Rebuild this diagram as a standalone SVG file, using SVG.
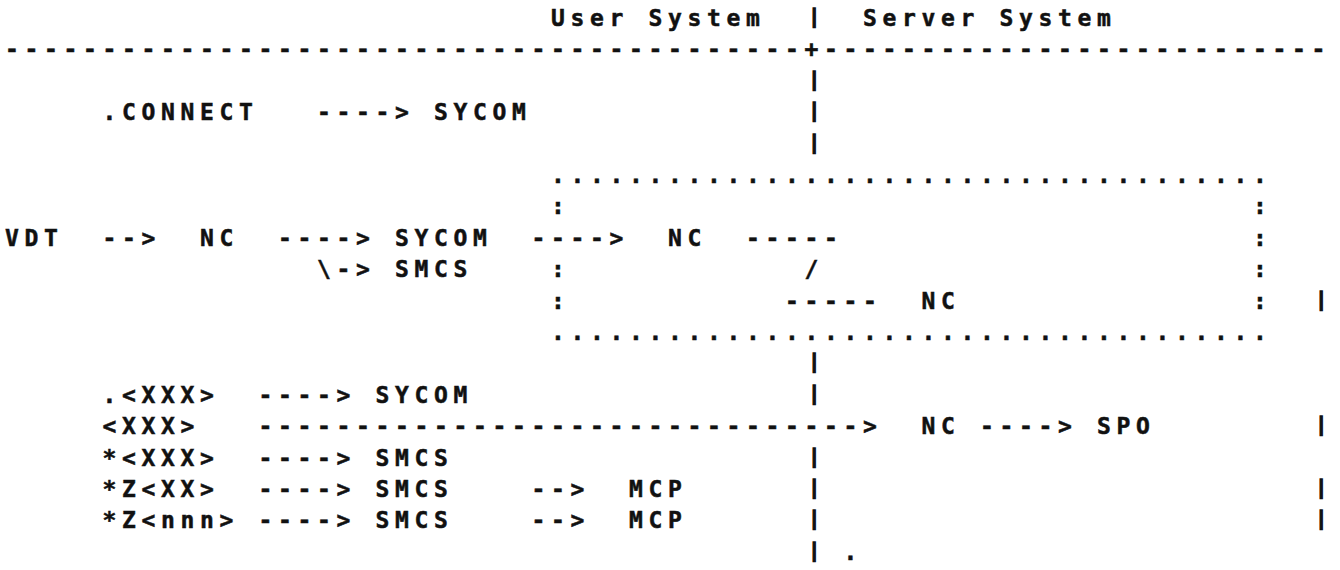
<svg xmlns="http://www.w3.org/2000/svg" width="1340" height="570" viewBox="0 0 1340 570" xml:space="preserve">
<style>
text{font-family:"DejaVu Sans Mono","Liberation Mono",monospace;font-weight:bold;font-size:23px;letter-spacing:5.65px;fill:#111;stroke:#111;stroke-width:0.5;white-space:pre}
text.bar{font-size:19px;letter-spacing:0;text-anchor:middle;stroke-width:1.3}
</style>
<rect width="1340" height="570" fill="#fff"/>
<g id="header">
<text x="551" y="26">User System</text>
<text class="bar" x="814.25" y="23">|</text>
<text x="863" y="26">Server System</text>
</g>
<g id="connectors">
<text x="5" y="57.4">-----------------------------------------</text>
<text x="804.5" y="57.4">+</text>
<text x="824" y="57.4">--------------------------</text>
<text class="bar" x="814.25" y="85.8">|</text>
<text x="317" y="120.2">----&gt;</text>
<text class="bar" x="814.25" y="117.2">|</text>
<text class="bar" x="814.25" y="148.6">|</text>
<text x="551" y="183">.....................................</text>
<text x="551" y="214.4">:</text>
<text x="1253" y="214.4">:</text>
<text x="102.5" y="245.8">--&gt;</text>
<text x="278" y="245.8">----&gt;</text>
<text x="531.5" y="245.8">----&gt;</text>
<text x="746" y="245.8">-----</text>
<text x="1253" y="245.8">:</text>
<text x="317" y="277.2">\-&gt;</text>
<text x="551" y="277.2">:</text>
<text x="804.5" y="277.2">/</text>
<text x="1253" y="277.2">:</text>
<text x="551" y="308.6">:</text>
<text x="785" y="308.6">-----</text>
<text x="1253" y="308.6">:</text>
<text class="bar" x="1321.25" y="305.6">|</text>
<text x="551" y="340">.....................................</text>
<text class="bar" x="814.25" y="368.4">|</text>
<text x="258.5" y="402.8">----&gt;</text>
<text class="bar" x="814.25" y="399.8">|</text>
<text x="258.5" y="434.2">-------------------------------&gt;</text>
<text x="980" y="434.2">----&gt;</text>
<text class="bar" x="1321.25" y="431.2">|</text>
<text x="258.5" y="465.6">----&gt;</text>
<text class="bar" x="814.25" y="462.6">|</text>
<text x="258.5" y="497">----&gt;</text>
<text x="531.5" y="497">--&gt;</text>
<text class="bar" x="814.25" y="494">|</text>
<text class="bar" x="1321.25" y="494">|</text>
<text x="258.5" y="528.4">----&gt;</text>
<text x="531.5" y="528.4">--&gt;</text>
<text class="bar" x="814.25" y="525.4">|</text>
<text class="bar" x="1321.25" y="525.4">|</text>
<text class="bar" x="814.25" y="556.8">|</text>
<text x="843.5" y="559.8">.</text>
</g>
<g id="n-connect"><text x="102.5" y="120.2">.CONNECT</text></g>
<g id="n-sycom-1"><text x="434" y="120.2">SYCOM</text></g>
<g id="n-vdt"><text x="5" y="245.8">VDT</text></g>
<g id="n-nc-1"><text x="200" y="245.8">NC</text></g>
<g id="n-sycom-2"><text x="395" y="245.8">SYCOM</text></g>
<g id="n-nc-2"><text x="668" y="245.8">NC</text></g>
<g id="n-smcs-1"><text x="395" y="277.2">SMCS</text></g>
<g id="n-nc-3"><text x="921.5" y="308.6">NC</text></g>
<g id="n-xxx-1"><text x="102.5" y="402.8">.&lt;XXX&gt;</text></g>
<g id="n-sycom-3"><text x="375.5" y="402.8">SYCOM</text></g>
<g id="n-xxx-2"><text x="102.5" y="434.2">&lt;XXX&gt;</text></g>
<g id="n-nc-4"><text x="921.5" y="434.2">NC</text></g>
<g id="n-spo"><text x="1097" y="434.2">SPO</text></g>
<g id="n-xxx-3"><text x="102.5" y="465.6">*&lt;XXX&gt;</text></g>
<g id="n-smcs-2"><text x="375.5" y="465.6">SMCS</text></g>
<g id="n-zxx"><text x="102.5" y="497">*Z&lt;XX&gt;</text></g>
<g id="n-smcs-3"><text x="375.5" y="497">SMCS</text></g>
<g id="n-mcp-1"><text x="629" y="497">MCP</text></g>
<g id="n-znnn"><text x="102.5" y="528.4">*Z&lt;nnn&gt;</text></g>
<g id="n-smcs-4"><text x="375.5" y="528.4">SMCS</text></g>
<g id="n-mcp-2"><text x="629" y="528.4">MCP</text></g>
</svg>
